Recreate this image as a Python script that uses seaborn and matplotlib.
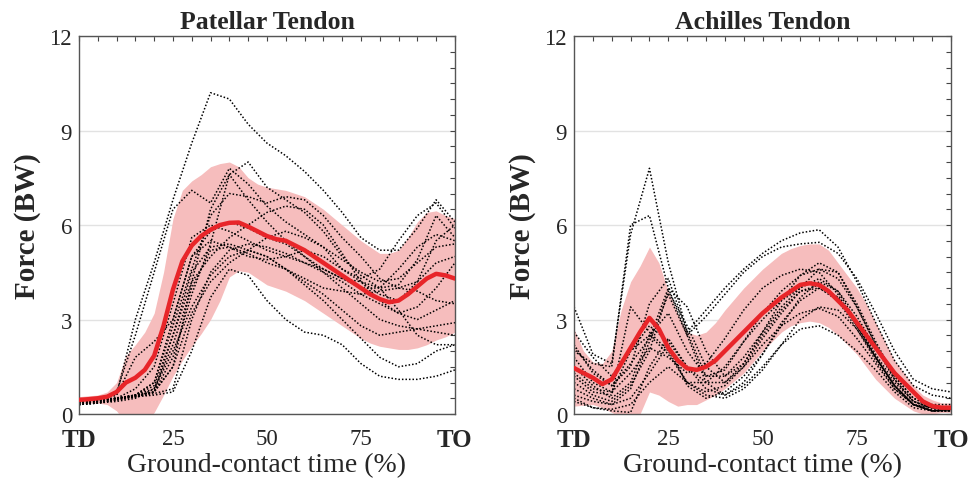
import numpy as np
import pandas as pd
import matplotlib
matplotlib.use("Agg")
import matplotlib.pyplot as plt
import seaborn as sns
from matplotlib.ticker import MultipleLocator

# ---- data (force in body weights) ----
t_subj = [0, 5, 10, 15, 20, 25, 30, 35, 40, 45, 50, 55, 60, 65, 70, 75, 80, 85, 90, 95, 100]
t_mean = [0, 2.5, 5, 7.5, 10, 12.5, 15, 17.5, 20, 22.5, 25, 27.5, 30, 32.5, 35, 37.5, 40, 42.5, 45, 47.5,
          50, 52.5, 55, 57.5, 60, 62.5, 65, 67.5, 70, 72.5, 75, 77.5, 80, 82.5, 85, 87.5, 90, 92.5, 95, 97.5, 100]

# Patellar tendon
pt_mean = [0.45, 0.47, 0.5, 0.55, 0.7, 1.0, 1.15, 1.4, 1.85, 2.8, 3.95, 4.85, 5.35, 5.65, 5.85, 6.0, 6.07, 6.08, 5.95, 5.8,
           5.65, 5.55, 5.5, 5.35, 5.2, 5.0, 4.8, 4.6, 4.4, 4.2, 4.0, 3.8, 3.65, 3.55, 3.6, 3.8, 4.05, 4.3, 4.45, 4.4, 4.3]
pt_upper = [0.55, 0.58, 0.6, 0.7, 1.0, 1.85, 2.2, 2.6, 3.2, 4.5, 6.2, 7.1, 7.4, 7.6, 7.85, 7.95, 8.0, 7.85, 7.5, 7.3,
            7.2, 7.15, 7.1, 7.0, 6.9, 6.7, 6.5, 6.25, 6.0, 5.75, 5.5, 5.3, 5.1, 5.1, 5.2, 5.6, 6.1, 6.4, 6.45, 6.3, 6.2]
pt_lower = [0.35, 0.35, 0.35, 0.3, 0.1, -0.3, -0.4, -0.3, 0.05, 0.6, 1.2, 1.7, 2.15, 2.55, 3.0, 3.6, 4.35, 4.55, 4.5, 4.3,
            4.1, 4.0, 3.9, 3.75, 3.6, 3.4, 3.2, 3.0, 2.8, 2.6, 2.4, 2.25, 2.15, 2.1, 2.05, 2.05, 2.1, 2.2, 2.35, 2.45, 2.6]
pt_subjects = [
    [0.4, 0.45, 0.6, 3.0, 4.8, 6.8, 8.6, 10.2, 10.0, 9.2, 8.6, 8.2, 7.7, 7.1, 6.4, 5.6, 5.2, 5.2, 5.9, 6.8, 6.1],
    [0.4, 0.45, 0.7, 2.5, 4.5, 6.5, 7.1, 6.7, 7.8, 7.3, 6.6, 6.1, 5.7, 5.3, 4.6, 4.2, 3.8, 3.6, 4.2, 5.5, 6.0],
    [0.4, 0.45, 0.5, 0.6, 0.7, 1.5, 4.2, 6.5, 7.6, 8.0, 7.2, 6.8, 6.4, 5.8, 5.0, 4.4, 4.0, 4.1, 4.9, 6.3, 5.6],
    [0.4, 0.45, 0.5, 0.55, 0.6, 0.7, 2.0, 3.7, 4.6, 4.4, 3.6, 3.0, 2.6, 2.5, 2.2, 1.6, 1.2, 1.1, 1.1, 1.2, 1.4],
    [0.4, 0.45, 0.5, 0.6, 0.7, 2.5, 4.5, 5.3, 5.4, 5.2, 5.0, 4.6, 4.1, 3.6, 3.0, 2.4, 1.8, 1.5, 1.6, 2.0, 2.2],
    [0.4, 0.4, 0.5, 0.8, 1.5, 3.5, 5.6, 6.0, 5.8, 5.5, 5.2, 5.0, 4.8, 4.6, 4.3, 4.0, 4.0, 4.6, 5.3, 5.7, 5.5],
    [0.35, 0.4, 0.5, 0.6, 1.0, 2.8, 4.6, 6.3, 7.0, 6.9, 6.7, 6.9, 6.8, 6.3, 5.6, 5.0, 4.3, 4.0, 4.2, 4.8, 5.0],
    [0.35, 0.4, 0.5, 0.6, 0.8, 2.2, 4.0, 5.2, 5.3, 5.1, 4.8, 4.6, 4.3, 4.0, 3.9, 3.8, 3.9, 4.0, 3.9, 3.6, 3.5],
    [0.3, 0.35, 0.45, 0.6, 0.9, 2.5, 4.2, 5.0, 5.6, 6.0, 6.4, 6.6, 6.5, 6.0, 5.1, 4.2, 3.6, 3.2, 3.4, 4.0, 4.8],
    [0.3, 0.35, 0.4, 0.5, 0.8, 2.0, 3.4, 4.4, 5.0, 5.2, 5.0, 4.6, 4.2, 3.8, 3.3, 2.8, 2.5, 2.6, 2.7, 2.6, 2.5],
    [0.4, 0.45, 0.6, 1.8, 2.3, 3.0, 5.0, 5.8, 6.1, 5.9, 5.6, 5.4, 5.0, 4.5, 4.0, 3.5, 3.0, 2.8, 2.7, 2.8, 2.9],
    [0.35, 0.4, 0.5, 0.6, 1.0, 3.0, 5.0, 5.5, 5.3, 5.0, 4.9, 5.0, 5.2, 5.0, 4.6, 4.3, 4.6, 5.5, 6.3, 6.7, 5.9],
    [0.3, 0.35, 0.45, 0.55, 0.7, 1.5, 3.2, 4.2, 4.8, 5.2, 5.6, 5.8, 5.6, 5.3, 4.9, 4.5, 4.2, 4.3, 4.8, 5.3, 5.4],
    [0.35, 0.4, 0.5, 0.55, 0.7, 1.8, 3.8, 5.4, 7.6, 6.8, 6.1, 5.5, 5.0, 4.6, 4.3, 4.2, 4.0, 3.3, 2.5, 2.2, 2.2],
    [0.3, 0.35, 0.45, 0.55, 0.65, 0.8, 3.0, 4.5, 5.2, 5.4, 5.3, 5.1, 4.8, 4.5, 4.2, 3.8, 3.5, 3.2, 3.0, 3.3, 3.6],
]

# Achilles tendon
at_mean = [1.46, 1.3, 1.15, 0.95, 1.1, 1.6, 2.1, 2.6, 3.05, 2.7, 2.1, 1.7, 1.45, 1.4, 1.5, 1.7, 2.0, 2.3, 2.6, 2.9,
           3.2, 3.45, 3.7, 3.9, 4.1, 4.15, 4.1, 3.9, 3.6, 3.3, 2.9, 2.5, 2.1, 1.7, 1.3, 1.0, 0.7, 0.4, 0.25, 0.2, 0.2]
at_upper = [2.7, 2.0, 1.65, 1.6, 2.0, 3.3, 4.2, 4.7, 5.3, 4.8, 3.9, 3.2, 2.6, 2.5, 2.6, 2.9, 3.3, 3.65, 4.0, 4.3,
            4.6, 4.85, 5.1, 5.25, 5.35, 5.4, 5.4, 5.2, 4.8, 4.4, 4.0, 3.5, 2.9, 2.3, 1.7, 1.3, 0.9, 0.6, 0.45, 0.35, 0.35]
at_lower = [0.25, 0.28, 0.3, 0.2, 0.05, -0.1, -0.2, 0.0, 0.7, 0.6, 0.4, 0.25, 0.3, 0.3, 0.45, 0.6, 0.8, 1.05, 1.3, 1.65,
            2.0, 2.3, 2.6, 2.8, 2.9, 2.95, 2.9, 2.75, 2.5, 2.2, 1.9, 1.5, 1.1, 0.8, 0.5, 0.3, 0.1, 0.0, 0.0, 0.05, 0.05]
at_subjects = [
    [3.4, 1.9, 1.6, 5.7, 7.8, 4.8, 2.6, 3.3, 4.0, 4.6, 5.1, 5.5, 5.75, 5.85, 5.3, 4.2, 2.9, 1.7, 0.9, 0.6, 0.5],
    [2.0, 1.6, 1.5, 6.0, 6.3, 4.0, 2.5, 3.1, 3.8, 4.5, 5.0, 5.3, 5.4, 5.45, 5.1, 4.3, 3.2, 2.0, 1.1, 0.8, 0.7],
    [2.2, 1.3, 0.9, 1.5, 3.5, 4.3, 2.6, 1.2, 1.2, 1.8, 2.6, 3.4, 4.0, 4.3, 3.9, 2.9, 1.8, 0.9, 0.3, 0.1, 0.15],
    [1.2, 0.7, 0.6, 3.4, 2.6, 2.0, 1.0, 1.0, 1.5, 2.3, 3.0, 3.6, 4.0, 4.6, 4.5, 3.4, 2.2, 1.2, 0.5, 0.2, 0.2],
    [0.6, 0.4, 0.3, 0.8, 2.3, 3.8, 2.5, 1.0, 0.6, 0.9, 1.5, 2.2, 2.7, 2.8, 2.5, 2.0, 1.4, 0.7, 0.2, 0.1, 0.1],
    [1.5, 0.9, 0.5, 1.0, 2.5, 3.2, 2.0, 1.2, 1.4, 2.3, 3.2, 3.9, 4.4, 4.6, 4.3, 3.4, 2.2, 1.1, 0.4, 0.2, 0.2],
    [1.0, 0.6, 0.4, 0.9, 2.0, 3.9, 2.8, 1.5, 1.0, 1.5, 2.2, 2.8, 3.2, 3.35, 3.1, 2.4, 1.6, 0.8, 0.3, 0.1, 0.1],
    [0.5, 0.2, 0.1, 0.05, 1.5, 2.4, 1.5, 0.8, 0.6, 1.0, 1.9, 2.9, 3.6, 4.0, 3.7, 2.8, 1.8, 0.9, 0.3, 0.1, 0.1],
    [1.8, 1.0, 0.7, 1.3, 2.1, 1.8, 1.3, 1.6, 2.4, 3.3, 4.0, 4.4, 4.6, 4.5, 3.8, 2.8, 1.8, 0.9, 0.3, 0.2, 0.2],
    [0.8, 0.5, 0.3, 0.5, 1.3, 2.2, 0.9, 0.5, 0.7, 1.2, 1.9, 2.8, 3.7, 4.2, 3.9, 3.1, 2.1, 1.1, 0.4, 0.15, 0.15],
    [2.1, 1.4, 0.9, 1.6, 2.4, 4.0, 3.4, 2.0, 1.2, 1.6, 2.5, 3.3, 3.9, 4.0, 3.6, 2.7, 1.7, 0.8, 0.3, 0.1, 0.15],
    [2.6, 1.8, 1.2, 2.0, 2.8, 2.3, 1.5, 1.0, 1.0, 1.6, 2.6, 3.6, 4.4, 4.8, 4.5, 3.5, 2.3, 1.2, 0.5, 0.3, 0.3],
    [0.4, 0.2, 0.15, 0.3, 1.0, 1.5, 1.0, 0.6, 0.5, 0.8, 1.4, 2.2, 3.0, 3.4, 3.3, 2.7, 1.8, 0.9, 0.3, 0.1, 0.1],
    [1.3, 0.8, 0.7, 2.0, 2.5, 1.9, 1.0, 0.7, 0.9, 1.5, 2.4, 3.2, 3.9, 4.1, 3.7, 2.9, 1.9, 1.0, 0.4, 0.2, 0.2],
]

titles = ["Patellar Tendon", "Achilles Tendon"]
xtick_labels = ["TD", "25", "50", "75", "TO"]

sns.set_style("white")
plt.rcParams["font.family"] = ["Liberation Serif", "DejaVu Serif"]

fig = plt.figure(figsize=(9.7, 4.85), dpi=100)
ax1 = fig.add_axes([0.0814, 0.1443, 0.3876, 0.7794])
ax2 = fig.add_axes([0.5918, 0.1443, 0.3887, 0.7794])

panels = [
    (ax1, pt_mean, pt_upper, pt_lower, pt_subjects),
    (ax2, at_mean, at_upper, at_lower, at_subjects),
]

for i, (ax, mean, upper, lower, subjects) in enumerate(panels):
    # long-form table of the individual curves
    rows = []
    for s, vals in enumerate(subjects):
        for t, v in zip(t_subj, vals):
            rows.append({"subject": s, "time": t, "force": v})
    df = pd.DataFrame(rows)

    ax.fill_between(t_mean, lower, upper, color="#f6bdbd", lw=0, zorder=1)
    sns.lineplot(data=df, x="time", y="force", units="subject", estimator=None,
                 color="black", linestyle=(0, (1, 1.3)), lw=1.1, ax=ax, zorder=2)
    sns.lineplot(x=t_mean, y=mean, color="#e82529", lw=3.2, ax=ax, zorder=3)

    ax.set_xlim(0, 100)
    ax.set_ylim(0, 12)
    ax.set_yticks([0, 3, 6, 9, 12])
    ax.yaxis.set_minor_locator(MultipleLocator(0.5))
    ax.set_xticks([0, 25, 50, 75, 100])
    ax.xaxis.set_minor_locator(MultipleLocator(5))
    ax.set_xticklabels(xtick_labels)
    ax.tick_params(axis="both", which="both", direction="in", top=True, right=True,
                   length=3.5, width=0.8, color="#444444", labelsize=16.5)
    ax.tick_params(axis="x", pad=10)
    ax.tick_params(axis="y", pad=5)
    for lab in ax.get_xticklabels():
        if lab.get_text() in ("TD", "TO"):
            lab.set_fontweight("bold")
            lab.set_fontsize(18)
    ax.grid(axis="y", which="major", color="#e2e2e2", lw=1)
    ax.set_axisbelow(True)
    for sp in ax.spines.values():
        sp.set_color("#555555")
        sp.set_linewidth(1.0)
    ax.set_title(titles[i], fontsize=18.5, fontweight="bold", pad=6)
    ax.set_xlabel("Ground-contact time (%)", fontsize=20, labelpad=1)
    ax.set_ylabel("Force (BW)", fontsize=21, fontweight="bold", labelpad=6)

fig.savefig("out.png", dpi=100)
